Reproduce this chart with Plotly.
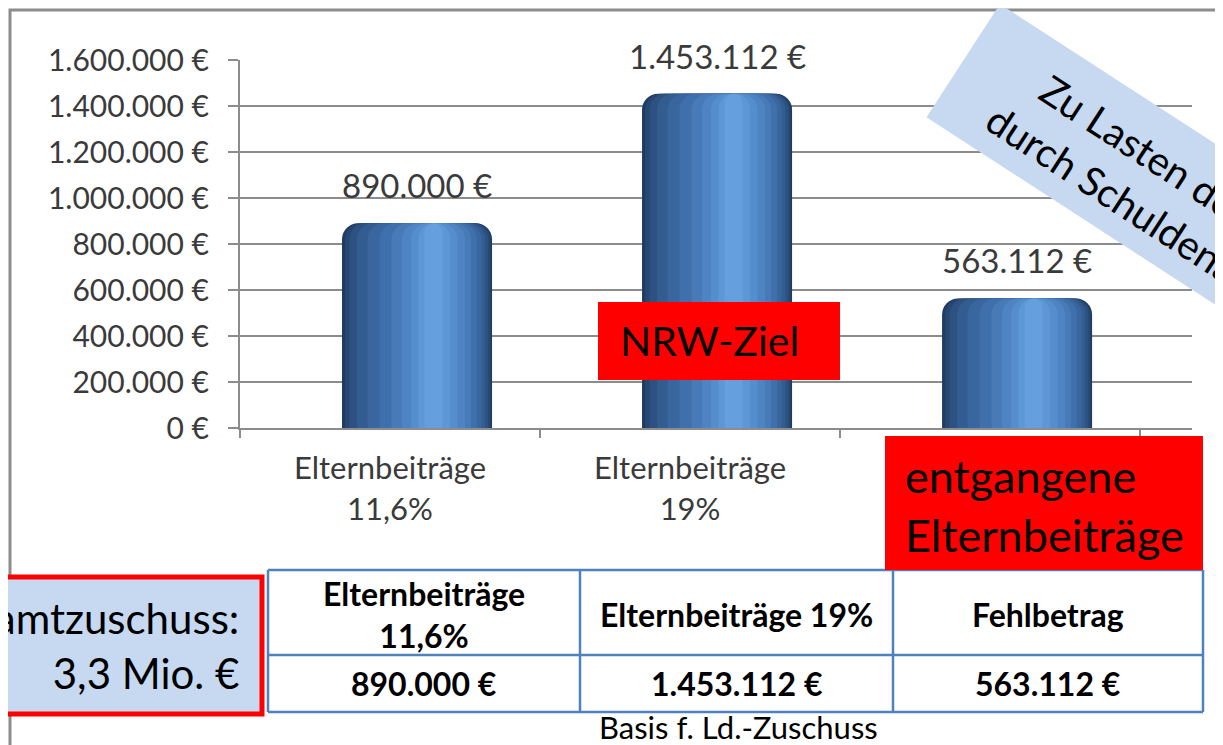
import math
import plotly.graph_objects as go

# ---------------- data ----------------
categories = ["Elternbeiträge<br>11,6%", "Elternbeiträge<br>19%", "Fehlbetrag"]
values = [890000, 1453112, 563112]
y_ticks = [0, 200000, 400000, 600000, 800000, 1000000, 1200000, 1400000, 1600000]
table_header = ["Elternbeiträge<br>11,6%", "Elternbeiträge 19%", "Fehlbetrag"]
table_note = "Basis f. Ld.-Zuschuss"
total_text = ["Gesamtzuschuss:", "3,3 Mio. €"]
box_nrw = "NRW-Ziel"
box_missing = ["entgangene", "Elternbeiträge"]
rotated_lines = ["Zu Lasten der Stadt", "durch Schuldenaufnahme"]

W, H = 1223, 745
OFF = 8  # page body margin of the written html
FONT = "Lato"
TXT = "#3a3a3a"


def fx(px):
    return (px - OFF) / W


def fy(py):
    return 1 - (py - OFF) / H


def eur(v):
    return f"{v:,}".replace(",", ".") + " €"


fig = go.Figure()

# cylinder-like bars: overlaid layers of narrowing width imitate the shading
bar_w = 0.5
bar_o = -0.16
layers = [
    (0.00, 1.00, "#1f3b61"),
    (0.02, 0.99, "#264771"),
    (0.05, 0.975, "#2d5282"),
    (0.10, 0.955, "#335c91"),
    (0.17, 0.93, "#39669e"),
    (0.25, 0.90, "#4070ab"),
    (0.33, 0.86, "#477ab7"),
    (0.40, 0.82, "#4e84c3"),
    (0.46, 0.77, "#568ecd"),
    (0.51, 0.72, "#5e97d6"),
    (0.55, 0.67, "#669fdd"),
]
for f1, f2, col in layers:
    fig.add_trace(go.Bar(
        x=categories, y=values,
        width=[bar_w * (f2 - f1)] * len(values),
        offset=[bar_o + bar_w * f1] * len(values),
        marker=dict(color=col, line=dict(width=0), cornerradius=16),
        showlegend=False, hoverinfo="skip",
    ))

shapes = []
annotations = []

# outer chart frame
shapes.append(dict(type="rect", xref="paper", yref="paper",
                   x0=fx(10), x1=fx(1260), y0=fy(10), y1=fy(780),
                   line=dict(color="#8c8c8c", width=3), fillcolor="rgba(0,0,0,0)",
                   layer="below"))

# data labels above bars
for c, v in zip(categories, values):
    annotations.append(dict(x=c, y=v, xref="x", yref="y", text=eur(v),
                            showarrow=False, xshift=27, yshift=38,
                            xanchor="center", yanchor="middle",
                            font=dict(family=FONT, size=33, color=TXT)))

# NRW-Ziel red box
shapes.append(dict(type="rect", xref="paper", yref="paper", layer="above",
                   x0=fx(598), x1=fx(840), y0=fy(380), y1=fy(302),
                   fillcolor="#ff0000", line=dict(width=0)))
annotations.append(dict(x=fx(618), y=fy(341), xref="paper", yref="paper",
                        xanchor="left", yanchor="middle", showarrow=False,
                        text=box_nrw, font=dict(family=FONT, size=41, color="black")))

# table (drawn with lines and texts)
col_x = [268, 580, 893, 1203]
row_y = [570, 655, 712]
tcol = "#4f81bd"
for xx in col_x:
    shapes.append(dict(type="line", xref="paper", yref="paper", layer="above",
                       x0=fx(xx), x1=fx(xx), y0=fy(row_y[0]), y1=fy(row_y[-1]),
                       line=dict(color=tcol, width=2.5)))
for yy in row_y:
    shapes.append(dict(type="line", xref="paper", yref="paper", layer="above",
                       x0=fx(col_x[0]), x1=fx(col_x[-1]), y0=fy(yy), y1=fy(yy),
                       line=dict(color=tcol, width=2.5)))
for i in range(3):
    cx = (col_x[i] + col_x[i + 1]) / 2
    annotations.append(dict(x=fx(cx), y=fy((row_y[0] + row_y[1]) / 2 + 2), xref="paper", yref="paper",
                            xanchor="center", yanchor="middle",
                            showarrow=False, text="<b>" + table_header[i] + "</b>",
                            font=dict(family=FONT, size=32, color="black")))
    annotations.append(dict(x=fx(cx), y=fy((row_y[1] + row_y[2]) / 2), xref="paper", yref="paper",
                            xanchor="center", yanchor="middle",
                            showarrow=False, text="<b>" + eur(values[i]) + "</b>",
                            font=dict(family=FONT, size=32, color="black")))
annotations.append(dict(x=fx(738), y=fy(727), xref="paper", yref="paper", showarrow=False,
                        xanchor="center", yanchor="middle",
                        text=table_note, font=dict(family=FONT, size=31, color="black")))

# entgangene Elternbeiträge red box
shapes.append(dict(type="rect", xref="paper", yref="paper", layer="above",
                   x0=fx(885), x1=fx(1203), y0=fy(570), y1=fy(436),
                   fillcolor="#ff0000", line=dict(width=0)))
annotations.append(dict(x=fx(903), y=fy(505), xref="paper", yref="paper",
                        xanchor="left", yanchor="middle", align="left", showarrow=False,
                        text="<br>".join(box_missing),
                        font=dict(family=FONT, size=45, color="black")))

# Gesamtzuschuss box (light blue with red frame)
shapes.append(dict(type="rect", xref="paper", yref="paper", layer="above",
                   x0=fx(-20), x1=fx(262), y0=fy(714), y1=fy(577),
                   fillcolor="#c6d9f1", line=dict(color="#ff0000", width=5)))
annotations.append(dict(x=fx(241), y=fy(645), xref="paper", yref="paper",
                        xanchor="right", yanchor="middle", align="right", showarrow=False,
                        text="<br>".join(total_text),
                        font=dict(family=FONT, size=42, color="black")))

# rotated light-blue note
ang = 33.0
ux, uy = math.cos(math.radians(ang)), math.sin(math.radians(ang))
nx, ny = -uy, ux
Ax, Ay = 1000, 4
short = 135
L = 640
pts = [(Ax, Ay), (Ax + short * nx, Ay + short * ny),
       (Ax + short * nx + L * ux, Ay + short * ny + L * uy), (Ax + L * ux, Ay + L * uy)]
path = "M " + " L ".join(f"{fx(p[0])},{fy(p[1])}" for p in pts) + " Z"
shapes.append(dict(type="path", xref="paper", yref="paper", layer="above", path=path,
                   fillcolor="#c6d9f1", line=dict(width=0)))
line_info = [(rotated_lines[0], 82, 340, 44), (rotated_lines[1], 50, 450, 98)]
for txt, start, width, nn in line_info:
    uc = start + width / 2
    cxp = Ax + uc * ux + nn * nx
    cyp = Ay + uc * uy + nn * ny
    annotations.append(dict(x=fx(cxp), y=fy(cyp), xref="paper", yref="paper",
                            xanchor="center", yanchor="middle", showarrow=False,
                            textangle=ang, text=txt,
                            font=dict(family=FONT, size=40, color="black")))

fig.update_layout(
    width=W, height=H,
    margin=dict(l=0, r=0, t=0, b=0),
    paper_bgcolor="white", plot_bgcolor="white",
    barmode="overlay",
    separators=",.",
    showlegend=False,
    font=dict(family=FONT, color=TXT),
    shapes=shapes,
    annotations=annotations,
    xaxis=dict(
        domain=[fx(240), fx(1192)],
        type="category", categoryorder="array", categoryarray=categories,
        range=[-0.5, 2.673],
        tickson="boundaries", ticks="outside", ticklen=8, tickwidth=2, tickcolor="#8c8c8c",
        showline=True, linecolor="#8c8c8c", linewidth=2,
        showgrid=False, zeroline=False, automargin=False,
        tickfont=dict(family=FONT, size=31, color=TXT),
        ticklabelstandoff=12,
    ),
    yaxis=dict(
        domain=[fy(428), fy(60)],
        range=[0, 1600000],
        tickmode="array", tickvals=y_ticks, ticktext=[eur(v) for v in y_ticks],
        ticks="outside", ticklen=10, tickwidth=2, tickcolor="#8c8c8c",
        showline=True, linecolor="#8c8c8c", linewidth=2,
        showgrid=True, gridcolor="#8c8c8c", gridwidth=2,
        zeroline=False, automargin=False,
        tickfont=dict(family=FONT, size=30, color=TXT),
        ticklabelstandoff=13,
    ),
)

fig.write_html("out.html")
